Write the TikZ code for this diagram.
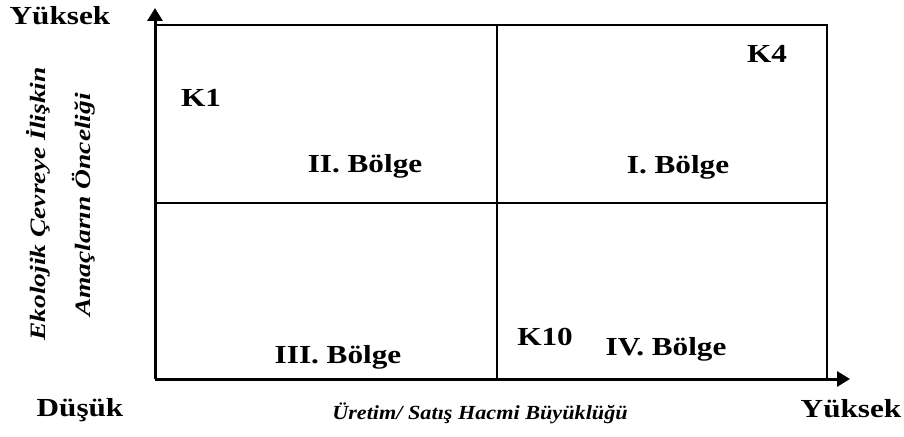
\documentclass[tikz,border=0pt]{standalone}
\usepackage{fontspec}
\setmainfont{Liberation Serif}
\newfontfamily\widefont[FakeStretch=1.2]{Liberation Serif}
\newfontfamily\vtfont[FakeStretch=1.25]{Liberation Serif}
\newfontfamily\htfont[FakeStretch=1.11]{Liberation Serif}
\usetikzlibrary{arrows.meta}
\tikzset{
  lbl/.style={font=\widefont\bfseries\fontsize{26}{28}\selectfont, inner sep=0pt, anchor=base},
  vtitle/.style={font=\vtfont\bfseries\itshape\fontsize{22}{24}\selectfont, inner sep=0pt, rotate=90},
  htitle/.style={font=\htfont\bfseries\itshape\fontsize{20}{22}\selectfont, inner sep=0pt, anchor=base},
  frame/.style={line width=2.5pt},
  axisline/.style={line width=3pt, -{Triangle[length=13pt,width=15pt]}}
}
\begin{document}
\begin{tikzpicture}[x=1pt,y=-1pt]
\useasboundingbox (0,0) rectangle (904,436);
% coordinates
\coordinate (O) at (155,379);
\coordinate (Ytip) at (155,8);
\coordinate (Xtip) at (850,379);
\coordinate (TL) at (155,25);
\coordinate (TR) at (827,25);
\coordinate (BR) at (827,379);
\coordinate (MT) at (497,25);
\coordinate (MB) at (497,379);
\coordinate (ML) at (155,203);
\coordinate (MR) at (827,203);
% frame
\draw[frame] (TL) -- (TR) -- (BR);
\draw[frame] (MT) -- (MB);
\draw[frame] (ML) -- (MR);
% axes
\draw[axisline] (O) -- (Ytip);
\draw[axisline] (O) -- (Xtip);
% labels
\node[lbl] (k1) at (201,106) {K1};
\node[lbl] (b2) at (365,172) {II. Bölge};
\node[lbl] (b1) at (678,173) {I. Bölge};
\node[lbl] (k4) at (767,63) {K4};
\node[lbl] (b3) at (338,363) {III. Bölge};
\node[lbl] (k10) at (545,345) {K10};
\node[lbl] (b4) at (666,355) {IV. Bölge};
\node[lbl] (ytop) at (60,25) {Yüksek};
\node[lbl] (dusuk) at (80,416) {Düşük};
\node[lbl] (ybot) at (851,417) {Yüksek};
\node[htitle] (xtitle) at (480,419) {Üretim/ Satış Hacmi Büyüklüğü};
\node[vtitle] (vt1) at (38,204) {Ekolojik Çevreye İlişkin};
\node[vtitle] (vt2) at (84,205) {Amaçların Önceliği};
\end{tikzpicture}
\end{document}
